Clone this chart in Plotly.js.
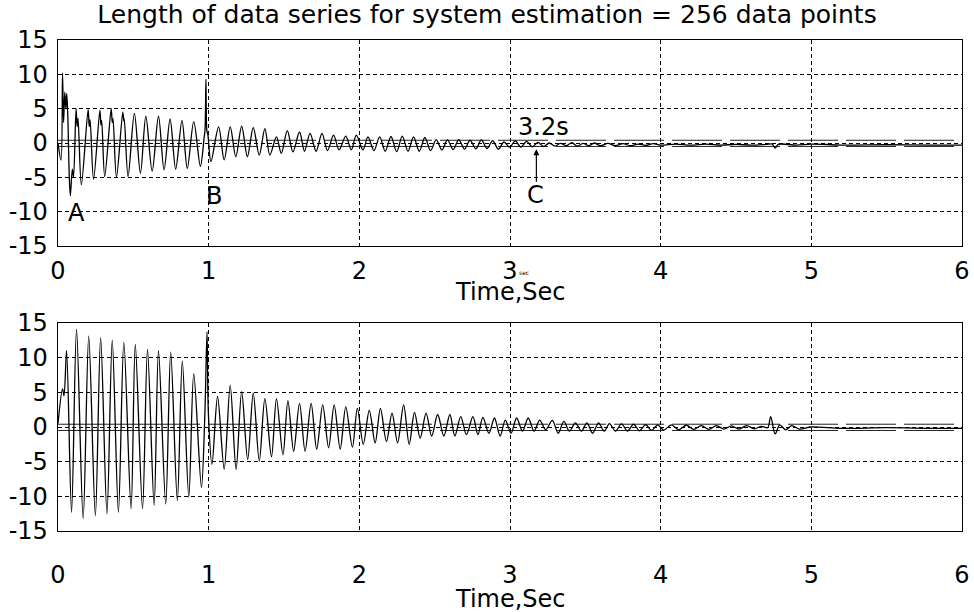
<!DOCTYPE html>
<html>
<head>
<meta charset="utf-8">
<script src="https://cdn.plot.ly/plotly-3.0.1.min.js"></script>
<style>html,body{margin:0;padding:0;background:#fff;}#chart{width:974px;height:612px;}</style>
</head>
<body>
<div id="chart"></div>
<script>
// ---- Data (extrema of the traces) ----
var chartTitle = "Length of data series for system estimation = 256 data points";
var xTitle = "Time,Sec";
var xTicks = [0, 1, 2, 3, 4, 5, 6];
var yTicks = [-15, -10, -5, 0, 5, 10, 15];

// upper panel signal
var tTop = [0,0.02,0.03,0.037,0.045,0.052,0.058,0.065,0.075,0.082,0.095,0.103,0.12,0.127,0.133,0.155,
  0.20,0.207,0.213,0.236,0.278,0.285,0.29,0.31,0.353,0.36,0.365,0.388,0.43,0.437,0.44,0.465,
  0.507,0.547,0.583,0.625,0.667,0.704,0.744,0.781,0.823,0.858,0.901,0.945,0.97,0.976,0.982,0.988,0.995,1.015,
  1.066,1.103,1.143,1.180,1.219,1.257,1.296,1.336,1.373,1.406,1.450,1.482,1.522,1.559,1.603,1.636,
  1.673,1.713,1.752,1.789,1.829,1.866,1.910,1.947,1.980,2.024,2.057,2.097,2.135,2.172,2.21,2.248,
  2.285,2.323,2.36,2.398,2.435,2.473,2.51,2.548,2.585,2.623,2.66,2.698,2.735,2.773,2.81,2.848,
  2.885,2.923,2.96,2.998,3.035,3.073,3.11,3.148,3.185,3.223,3.26,3.298,3.335,3.373,3.41,3.448,
  3.485,3.523,3.56,3.6,3.65,3.7,3.75,3.8,3.85,3.9,3.95,4.0,4.1,4.2,4.3,4.4,4.5,4.6,4.7,4.74,4.76,4.78,
  4.9,5.0,5.2,5.5,5.8,6.0];
var vTop = [0,-2.5,10.2,3.0,7.4,5.0,7.2,4.0,-5.0,-7.7,-3.8,-5.0,5.0,2.4,3.6,-6.1,
  4.9,2.4,3.4,-5.3,4.8,2.6,3.3,-4.9,5.0,3.0,3.6,-5.0,4.5,3.2,3.5,-4.9,
  4.3,-4.4,3.9,-4.1,3.9,-3.9,3.5,-3.8,3.3,-3.7,3.1,-3.4,0.8,2.0,9.3,1.8,1.2,-2.7,
  2.35,-2.45,2.35,-2.0,2.45,-2.0,2.25,-1.75,2.1,-1.75,0.9,-1.5,1.8,-1.3,1.6,-1.2,
  1.4,-1.2,1.4,-1.1,1.15,-1.0,1.0,-1.0,1.15,-1.0,0.9,-1.1,0.9,-1.2,0.95,-1.25,
  1.0,-1.2,0.9,-1.2,0.8,-1.1,0.5,-1.0,0.45,-0.95,0.5,-0.9,0.4,-0.85,0.45,-0.8,
  0.35,-0.9,0.15,-0.6,0.3,-0.6,0.25,-0.55,0.1,-0.5,0.0,-0.45,-0.05,-0.4,0.05,-0.45,
  -0.05,-0.4,0.0,-0.4,-0.05,-0.4,-0.1,-0.4,-0.15,-0.35,-0.1,-0.3,-0.15,-0.3,-0.15,-0.3,-0.2,-0.3,-0.2,-0.15,-0.75,-0.2,
  -0.3,-0.15,-0.3,-0.25,-0.3,-0.3];

// lower panel signal
var tBot = [0,0.03,0.04,0.057,0.09,0.123,0.167,0.204,0.248,0.283,0.325,0.360,0.401,0.437,0.485,0.513,
  0.561,0.594,0.638,0.667,0.715,0.748,0.792,0.825,0.868,0.901,0.952,0.975,0.989,0.998,1.022,
  1.059,1.103,1.143,1.182,1.219,1.259,1.296,1.336,1.373,1.417,1.450,1.493,1.526,1.564,1.603,1.640,
  1.680,1.717,1.757,1.796,1.833,1.873,1.910,1.954,1.987,2.026,2.066,2.105,2.140,2.180,2.217,2.254,
  2.294,2.331,2.366,2.404,2.443,2.480,2.520,2.561,2.601,2.634,2.673,2.711,2.754,2.787,2.820,2.860,
  2.897,2.934,2.969,3.007,3.044,3.083,3.121,3.160,3.197,3.237,3.281,3.320,3.357,3.395,3.434,3.474,
  3.511,3.548,3.588,3.625,3.66,3.70,3.74,3.78,3.82,3.86,3.90,3.94,3.98,4.02,4.07,4.12,4.17,4.22,
  4.27,4.32,4.37,4.42,4.47,4.52,4.57,4.62,4.67,4.71,4.73,4.76,4.79,4.83,4.87,4.92,5.0,5.2,5.5,5.8,6.0];
var vBot = [0.5,5.5,4.5,11.0,-12.3,14.1,-13.2,13.1,-12.8,12.9,-12.5,12.5,-12.3,12.2,-11.8,11.9,
  -11.8,11.2,-11.3,11.0,-11.1,10.8,-10.6,9.5,-10.1,7.7,-8.7,2.0,13.7,2.0,-5.4,
  4.4,-6.1,6.0,-6.1,5.1,-4.7,4.9,-4.9,4.1,-4.3,4.1,-4.0,3.8,-3.5,3.4,-3.5,
  3.4,-3.2,3.2,-3.0,3.2,-3.2,2.9,-2.9,2.7,-2.5,2.4,-2.3,2.7,-2.1,2.0,-2.3,
  3.2,-2.5,2.1,-1.6,2.0,-1.3,1.8,-1.3,1.8,-1.3,1.5,-1.1,1.5,-1.1,1.4,-0.9,
  1.3,-1.3,1.0,-0.9,1.3,-0.6,1.3,-0.6,1.0,-0.4,0.95,-0.9,0.8,-0.6,0.6,-0.6,
  0.6,-0.9,0.6,-0.6,0.5,-0.6,0.45,-0.6,0.4,-0.55,0.35,-0.5,0.3,-0.45,0.3,-0.4,0.25,-0.35,
  0.2,-0.35,0.2,-0.3,0.15,-0.3,0.2,-0.25,0.1,-0.1,1.5,-1.0,0.3,-0.4,0.2,-0.3,0.0,-0.2,-0.1,-0.2,-0.2];

// reference band levels (double horizontal lines)
var bandX = [0, 6];
var bandTop = [0.4, -0.5];
var bandBot = [0.4, -0.5];

// annotation labels
var markLabels = ["A", "B", "C"];
var markT = [0.126, 1.035, 3.17];
var markV = [-10.2, -7.7, -7.6];
var convLabel = "3.2s";
var convT = 3.22, convV = 2.3;
var arrowT = 3.175, arrowV = -0.9;

// ---- Build traces ----
var FONT = "DejaVu Sans, Liberation Sans, Arial, sans-serif";
var bandDash = "142px,8px,50px,8px,50px,8px,50px,8px,50px,8px,50px,8px,50px,8px,50px,8px,50px,8px,50px,8px,50px,8px,50px,8px,50px,8px,50px,8px";
var traces = [];
function band(levels, xa, ya) {
  levels.forEach(function (lv) {
    traces.push({x: bandX, y: [lv, lv], xaxis: xa, yaxis: ya, mode: "lines",
      line: {color: "#222", width: 1, dash: bandDash}, hoverinfo: "skip"});
  });
}
band(bandTop, "x", "y");
band(bandBot, "x2", "y2");
traces.push({x: tTop, y: vTop, xaxis: "x", yaxis: "y", mode: "lines",
  line: {color: "#000", width: 1.3, shape: "spline", smoothing: 0.9}});
traces.push({x: tBot, y: vBot, xaxis: "x2", yaxis: "y2", mode: "lines",
  line: {color: "#000", width: 1.3, shape: "spline", smoothing: 0.9}});

function xAxis(anchor, standoff) {
  return {domain: [0, 1], anchor: anchor, range: [0, 6], tickvals: xTicks, ticktext: xTicks.map(String),
    showline: true, mirror: true, linecolor: "#000", linewidth: 1.3, ticks: "", automargin: false,
    showgrid: true, gridcolor: "#000", gridwidth: 1, griddash: "4px,3px", zeroline: false,
    tickfont: {family: FONT, size: 24, color: "#000"}, ticklabelstandoff: standoff};
}
function yAxis(anchor, domain) {
  return {domain: domain, anchor: anchor, range: [-15, 15], tickvals: yTicks, ticktext: yTicks.map(String),
    showline: true, mirror: true, linecolor: "#000", linewidth: 1.3, ticks: "", automargin: false,
    showgrid: true, gridcolor: "#000", gridwidth: 1, griddash: "4px,3px", zeroline: false,
    tickfont: {family: FONT, size: 24, color: "#000"}, ticklabelstandoff: 4};
}

var annotations = [];
markLabels.forEach(function (m, i) {
  annotations.push({x: markT[i], y: markV[i], xref: "x", yref: "y", text: m, showarrow: false,
    xanchor: "center", yanchor: "middle", font: {family: FONT, size: 24, color: "#000"}});
});
annotations.push({x: convT, y: convV, xref: "x", yref: "y", text: convLabel, showarrow: false,
  xanchor: "center", yanchor: "middle", font: {family: FONT, size: 24, color: "#000"}});
annotations.push({x: arrowT, y: arrowV, xref: "x", yref: "y", text: "", showarrow: true,
  ax: 0, ay: 34, arrowhead: 2, arrowsize: 1, arrowwidth: 1.2, arrowcolor: "#000"});
annotations.push({x: 0.5, y: 0.4868, xref: "paper", yref: "paper", text: xTitle, showarrow: false,
  xanchor: "center", yanchor: "middle", font: {family: FONT, size: 24, color: "#000"}});
annotations.push({x: 0.5, y: -0.1385, xref: "paper", yref: "paper", text: xTitle, showarrow: false,
  xanchor: "center", yanchor: "middle", font: {family: FONT, size: 24, color: "#000"}});
annotations.push({x: 0.5155, y: 0.527, xref: "paper", yref: "paper", text: "sec", showarrow: false,
  xanchor: "center", yanchor: "middle", font: {family: FONT, size: 6, color: "#000"}});

var layout = {
  width: 974, height: 612,
  margin: {l: 58, r: 12, t: 40, b: 81, autoexpand: false},
  paper_bgcolor: "#fff", plot_bgcolor: "#fff",
  showlegend: false,
  title: {text: chartTitle, x: 0.5, xanchor: "center", y: 0.977, yanchor: "middle",
    font: {family: FONT, size: 25, color: "#000"}},
  xaxis: xAxis("y", 3),
  yaxis: yAxis("x", [0.5804, 1]),
  xaxis2: xAxis("y2", 22),
  yaxis2: yAxis("x2", [0, 0.4236]),
  annotations: annotations
};
Plotly.newPlot("chart", traces, layout, {staticPlot: true});
</script>
</body>
</html>
